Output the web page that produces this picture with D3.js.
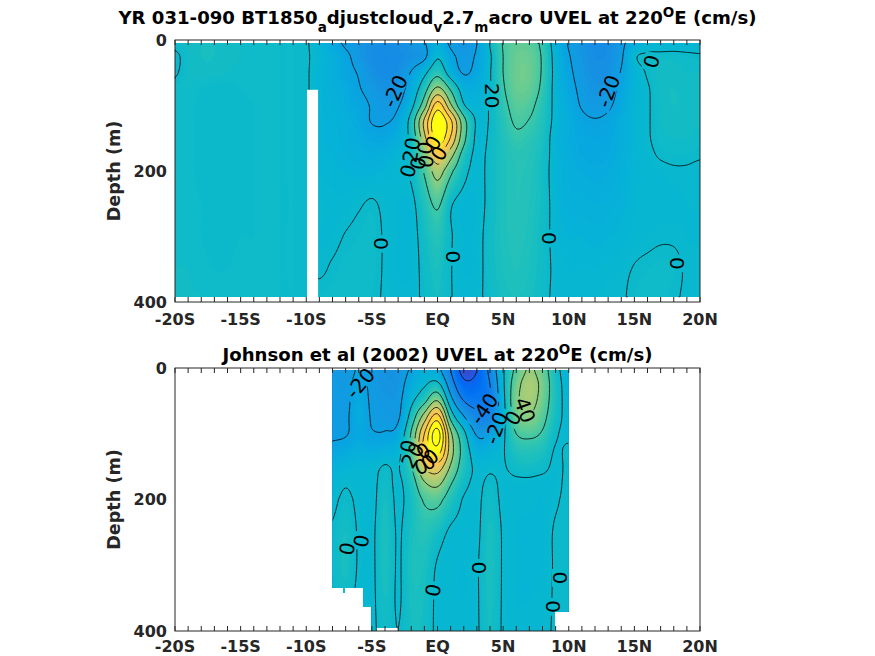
<!DOCTYPE html>
<html>
<head>
<meta charset="utf-8">
<script src="https://cdn.jsdelivr.net/npm/d3@7"></script>
<style>
body { margin: 0; background: #fff; }
text { font-family: "DejaVu Sans", sans-serif; white-space: pre; }
</style>
</head>
<body>
<svg id="fig" width="875" height="656"></svg>
<script>
// ---------------- data ----------------
var modelLat = d3.range(-20, 21);
var modelDepth = [5, 25, 50, 75, 100, 125, 150, 175, 200, 250, 300, 350, 392];
// rows = depth, columns = latitude -20..20 (cm/s)
var modelU = [
  [3,5,6,6,5,4,3,3,2,2, 1,-6,-14,-22,-26,-29,-30,-29,-26,-21, -10, -22,-27,-20,1,21,28,27,16,-8,-21, -27,-31,-30,-23,-12,-6,-6,-5,-5,-4],
  [-2,4,6,6,5,4,3,3,2,2, 1,-4,-10,-17,-25,-30,-32,-31,-28,-23, -2, -16,-24,-18,-2,20,30,30,18,-6,-19, -26,-30,-29,-22,-2,2,3,3,2,1],
  [-1,4,5,5,4,3,3,3,2,2, 1,-5,-10,-16,-21,-28,-31,-29,-19,-4, 14, -8,-21,-15,-1,20,31,31,18,-5,-17, -25,-29,-28,-19,-6,1,5,5,4,4],
  [3,4,2,1,1,2,3,3,2,2, 1,-5,-9,-13,-19,-24,-28,-26,-12,12, 45, 18,-8,-10,-1,18,30,29,16,-5,-15, -23,-27,-26,-16,-6,-1,5,6,5,5],
  [3,3,1,1,1,1,2,3,2,2, 1,-5,-8,-12,-16,-21,-25,-21,-5,32, 90, 44,2,-6,1,15,26,24,12,-4,-13, -21,-24,-22,-14,-5,-1,4,6,5,5],
  [3,3,1,1,1,1,2,3,2,2, 1,-5,-7,-10,-14,-20.5,-21,-15,8,64, 118, 85,28,-2,1,12,22,19,10,-4,-11, -17,-19,-17,-11,-5,-1,4,5,5,4],
  [3,3,1,1,1,1,2,3,2,2, 1,-5,-7,-9,-12,-15,-15,-10,6,54, 112, 78,26,-3,2,10,17,14,8,-6,-12, -15,-16,-15,-11,-5,-1,3,4,4,3],
  [3,3,1,1,1,1,2,3,2,2, 1,-5,-6,-8,-10,-11,-9,-5,4,37, 78, 48,12,-3,3,9,13,12,6,-5,-11, -14,-15,-14,-10,-5,-2,1,2,2,1],
  [3,3,1,1,1,1,2,3,2,2, 1,-4,-5,-6,-7,-7,-5,-3,2,22, 48, 24,4,-3,3,9,12,11,5,-5,-10, -12,-13,-12,-9,-5,-3,-2,-1,-1,-2],
  [3,3,2,1,1,1,2,3,2,2, 1.5,-1,-3,-3,-1,1,-2,-4,-3,10, 23, 2,-4,-4,3,9,12,10,5,-4,-9, -9,-10,-9,-7,-4,-3,-3,-3,-2,-2],
  [3,3,2,1,1,2,2,3,2,2, 1,-2,-2,0.5,2,3,-1,-4,-4,5, 12, 1,-4,-3,4,9,11,9,4,-3,-6, -6,-7,-6,-5,-3,-2,-1,-1,-2,-2],
  [4,4,3,2,2,3,3,3,2,2, 1,-1,1,3,3,3,-1,-4,-4,3, 8, 0.5,-4,-3,4,8,10,8,4,-2,-4, -4,-4,-3,-2,0.5,2,3,2,-1,-2],
  [4,4,4,3,3,3,3,3,2,2, 2,2,3,3,3,2,-1,-3,-3,2, 6, 0.5,-3,-2,3,7,8,7,3,-2,-3, -3,-3,-1,-1,2,3,3,1,-1,-2]
];
// missing model column
var modelGapLat = [-9.94, -9.1];
var modelGapDepth = [76, 400];

var obsLat = d3.range(-8, 11);
var obsDepth = [3, 25, 50, 75, 100, 125, 150, 175, 200, 250, 300, 350, 400];
// rows = depth, columns = latitude -8..10 (cm/s)
var obsU = [
  [-24,-25,-19,-24,-28,-27,-18,-10,-15,-40,-66,-60,-35,-2,25,42,30,6,-8],
  [-23,-24,-16,-23,-27,-26,-12,-2,5,-30,-55,-54,-40,-3,32,48,34,8,-6],
  [-22,-23,-14,-22,-25,-24,-4,15,40,-12,-40,-46,-42,-5,35,46,32,8,-5],
  [-21,-22,-13,-21,-23,-22,8,50,90,15,-18,-35,-35,-6,30,38,26,6,-4],
  [-22,-21,-15,-19,-19,-14,22,80,128,45,5,-22,-20,-3,20,24,18,2,-3],
  [-16,-14,-10,-12,-10,-5,25,85,112,50,12,-10,-8,-1,10,12,9,-1,2],
  [-8,-6,-4,-4,1,-1,18,62,72,38,10,-3,-2,-1,4,5,3,-2,2],
  [-4,-1,-3,-3,4,-2,10,38,45,22,4,-2,2,-2,-2,-2,-3,-2,2],
  [-2,2,-2,-3,6,-2,6,22,25,10,-1,-2,4,-2,-3,-3,-4,-1,2],
  [1,6,-1,-2,8,-1,7,12,6,-2,-3,-2,7,-1,-4,-5,-4,1,2],
  [2,7,-1,-2,8,-1,8,8,-1,-3,-4,-1,8,-1,-4,-5,-4,1,2],
  [1,4,-2,-2,6,-1,7,6,-2,-3,-4,-1,7,-1,-4,-4,-3,1,2],
  [0,2,-2,-2,4,0,6,5,-2,-3,-3,-1,6,-1,-3,-3,-2,1,2]
];
// deepest observation, per latitude segment
var obsFloorLat = [-8, -7.2, -7.05, -5.65, -5.0, -4.64, -3.0, 8.95, 9.97];
var obsFloorDepth = [334, 342, 334, 363, 400, 395, 400, 370];

var contourLevels = d3.range(-80, 141, 20);
var latTicks = d3.range(-20, 21, 5);
var latTickText = ["-20S", "-15S", "-10S", "-5S", "EQ", "5N", "10N", "15N", "20N"];
var depthTicks = [0, 200, 400];

var modelLabels = [
  {lat: -3.24, depth: 78, text: "-20", rot: -65},
  {lat: 4.2, depth: 85, text: "20", rot: 90},
  {lat: 13.0, depth: 78, text: "-20", rot: -70},
  {lat: 16.3, depth: 33, text: "0", rot: -75},
  {lat: -4.3, depth: 311, text: "0", rot: 90},
  {lat: 1.2, depth: 331, text: "0", rot: 90},
  {lat: 8.5, depth: 303, text: "0", rot: 90},
  {lat: 18.3, depth: 341, text: "0", rot: 90},
  {lat: -2.25, depth: 200, text: "0", rot: -75},
  {lat: -2.0, depth: 168, text: "20", rot: -80},
  {lat: -0.95, depth: 165, text: "0", rot: -80},
  {lat: -0.34, depth: 157, text: "0", rot: -60},
  {lat: 0.11, depth: 173, text: "0", rot: -60},
  {lat: -1.49, depth: 188, text: "0", rot: -80},
  {lat: -0.88, depth: 185, text: "0", rot: -80}
];
var obsLabels = [
  {lat: -5.9, depth: 23, text: "-20", rot: -50},
  {lat: 3.54, depth: 62, text: "-40", rot: -55},
  {lat: 4.46, depth: 91, text: "-20", rot: -70},
  {lat: 5.75, depth: 76, text: "0", rot: -60},
  {lat: 6.67, depth: 64, text: "40", rot: 70},
  {lat: -6.9, depth: 275, text: "0", rot: -80},
  {lat: -5.8, depth: 263, text: "0", rot: -80},
  {lat: 3.2, depth: 304, text: "0", rot: 90},
  {lat: -0.34, depth: 338, text: "0", rot: -80},
  {lat: 9.33, depth: 319, text: "0", rot: 90},
  {lat: 8.8, depth: 363, text: "0", rot: 90},
  {lat: -2.25, depth: 119, text: "0", rot: -80},
  {lat: -1.9, depth: 133, text: "20", rot: -60},
  {lat: -1.1, depth: 126, text: "0", rot: -30},
  {lat: -0.5, depth: 135, text: "0", rot: -40},
  {lat: -1.26, depth: 150, text: "0", rot: -20},
  {lat: -0.72, depth: 143, text: "0", rot: -30}
];

var modelTitle = [["YR 031-090 BT1850", "n"], ["a", "sub"], ["djustcloud", "n"], ["v", "sub"],
  ["2.7", "n"], ["m", "sub"], ["acro UVEL at 220", "n"], ["O", "sup"], ["E (cm/s)", "n"]];
var obsTitle = [["Johnson et al (2002) UVEL at 220", "n"], ["O", "sup"], ["E (cm/s)", "n"]];

var parula = [
[0.2081,0.1663,0.5292],[0.2116,0.1898,0.5777],[0.2123,0.2138,0.6270],[0.2081,0.2386,0.6771],
[0.1959,0.2645,0.7279],[0.1707,0.2919,0.7792],[0.1253,0.3242,0.8303],[0.0591,0.3598,0.8683],
[0.0117,0.3875,0.8820],[0.0060,0.4086,0.8828],[0.0165,0.4266,0.8786],[0.0329,0.4430,0.8720],
[0.0498,0.4586,0.8641],[0.0629,0.4737,0.8554],[0.0723,0.4887,0.8467],[0.0779,0.5040,0.8384],
[0.0793,0.5200,0.8312],[0.0749,0.5375,0.8263],[0.0641,0.5570,0.8240],[0.0488,0.5772,0.8228],
[0.0343,0.5966,0.8199],[0.0265,0.6137,0.8135],[0.0239,0.6287,0.8038],[0.0231,0.6418,0.7913],
[0.0228,0.6535,0.7768],[0.0267,0.6642,0.7607],[0.0384,0.6743,0.7436],[0.0590,0.6838,0.7254],
[0.0843,0.6928,0.7062],[0.1133,0.7015,0.6859],[0.1453,0.7098,0.6646],[0.1801,0.7177,0.6424],
[0.2178,0.7250,0.6193],[0.2586,0.7317,0.5954],[0.3022,0.7376,0.5712],[0.3482,0.7424,0.5473],
[0.3953,0.7459,0.5244],[0.4420,0.7481,0.5033],[0.4871,0.7491,0.4840],[0.5300,0.7491,0.4661],
[0.5709,0.7485,0.4494],[0.6099,0.7473,0.4337],[0.6473,0.7456,0.4188],[0.6834,0.7435,0.4044],
[0.7184,0.7411,0.3905],[0.7525,0.7384,0.3768],[0.7858,0.7356,0.3633],[0.8185,0.7327,0.3498],
[0.8507,0.7299,0.3360],[0.8824,0.7274,0.3217],[0.9139,0.7258,0.3063],[0.9450,0.7261,0.2886],
[0.9739,0.7314,0.2666],[0.9938,0.7455,0.2403],[0.9990,0.7653,0.2164],[0.9955,0.7861,0.1967],
[0.9880,0.8066,0.1794],[0.9789,0.8271,0.1633],[0.9697,0.8481,0.1475],[0.9626,0.8705,0.1309],
[0.9589,0.8949,0.1132],[0.9598,0.9218,0.0948],[0.9661,0.9514,0.0755],[0.9763,0.9831,0.0538]
];

// ---------------- drawing ----------------
var svg = d3.select("#fig");
var X0 = 175, X1 = 700;
var cmin = -80, cmax = 115;
var color = d3.scaleLinear()
  .domain(parula.map(function(c, i) { return cmin + i * (cmax - cmin) / 63; }))
  .range(parula.map(function(c) { return d3.rgb(c[0] * 255, c[1] * 255, c[2] * 255).brighter(0.2) + ""; }))
  .clamp(true);
var defs = svg.append("defs");

// Catmull-Rom
function cr(p0, p1, p2, p3, t) {
  return p1 + 0.5 * t * (p2 - p0 + t * (2 * p0 - 5 * p1 + 4 * p2 - p3 + t * (3 * (p1 - p2) + p3 - p0)));
}
function sample(grid, fi, fj) {
  var nc = grid[0].length, nr = grid.length;
  var i = Math.max(0, Math.min(nc - 2, Math.floor(fi))), j = Math.max(0, Math.min(nr - 2, Math.floor(fj)));
  var tx = fi - i, ty = fj - j;
  function cl(a, n) { return Math.max(0, Math.min(n - 1, a)); }
  var r = [];
  for (var k = -1; k <= 2; k++) {
    var row = grid[cl(j + k, nr)];
    r.push(cr(row[cl(i - 1, nc)], row[i], row[i + 1], row[cl(i + 2, nc)], tx));
  }
  return cr(r[0], r[1], r[2], r[3], ty);
}

function drawPanel(p, id) {
  var x = d3.scaleLinear().domain([-20, 20]).range([X0, X1]);
  var y = d3.scaleLinear().domain([0, 400]).range([p.top, p.bottom]);
  var g = svg.append("g");

  var latMin = p.lats[0], latMax = p.lats[p.lats.length - 1];
  var dMin = p.depths[0], dMax = p.depths[p.depths.length - 1];
  var dLat = 0.125;
  var nx = Math.round((latMax - latMin) / dLat) + 1;
  var ny = Math.round((dMax - dMin) / 2) + 1;
  var dD = (dMax - dMin) / (ny - 1);
  var latIdx = d3.scaleLinear().domain(p.lats).range(d3.range(p.lats.length));
  var depIdx = d3.scaleLinear().domain(p.depths).range(d3.range(p.depths.length));
  var fine = new Float64Array(nx * ny);
  for (var j = 0; j < ny; j++) {
    var fj = depIdx(dMin + j * dD);
    for (var i = 0; i < nx; i++) fine[j * nx + i] = sample(p.values, latIdx(latMin + i * dLat), fj);
  }

  function proj(a, b) {
    var ii = Math.max(0, Math.min(nx - 1, a - 0.5)), jj = Math.max(0, Math.min(ny - 1, b - 0.5));
    return [x(latMin + ii * dLat), y(dMin + jj * dD)];
  }
  var path = d3.geoPath(d3.geoTransform({point: function(a, b) {
    var q = proj(a, b); this.stream.point(q[0], q[1]);
  }}));

  var layer = g.append("g");
  if (p.clip) {
    defs.append("clipPath").attr("id", "clip" + id)
      .append("polygon").attr("points", p.clip.map(function(c) { return x(c[0]) + "," + y(c[1]); }).join(" "));
    layer.attr("clip-path", "url(#clip" + id + ")");
  }

  // shaded field
  var bands = d3.contours().size([nx, ny]).thresholds(d3.range(-100, 142, 2))(fine);
  layer.append("g").selectAll("path").data(bands).join("path")
    .attr("d", path).attr("fill", function(d) { return color(d.value + 1); })
    .attr("fill-rule", "evenodd").attr("stroke", "none");

  // label gaps
  var fs = 20;
  var mask = defs.append("mask").attr("id", "mask" + id)
    .attr("maskUnits", "userSpaceOnUse").attr("x", 0).attr("y", 0).attr("width", 875).attr("height", 656);
  mask.append("rect").attr("width", 875).attr("height", 656).attr("fill", "#fff");
  p.labels.forEach(function(l) {
    var w = fs * 0.6 * l.text.length + 6, h = fs * 0.8;
    mask.append("rect").attr("x", -w / 2).attr("y", -h / 2).attr("width", w).attr("height", h)
      .attr("fill", "#000")
      .attr("transform", "translate(" + x(l.lat) + "," + y(l.depth) + ") rotate(" + l.rot + ")");
  });

  // contour lines
  var lines = d3.contours().size([nx, ny]).thresholds(p.levels)(fine);
  var pieces = [];
  lines.forEach(function(c) {
    c.coordinates.forEach(function(poly) {
      poly.forEach(function(ring) {
        var cur = [];
        for (var k = 0; k < ring.length - 1; k++) {
          var a = ring[k], b = ring[k + 1];
          var edge = (a[0] === 0 && b[0] === 0) || (a[0] === nx && b[0] === nx) ||
                     (a[1] === 0 && b[1] === 0) || (a[1] === ny && b[1] === ny);
          if (edge) { if (cur.length > 1) pieces.push(cur); cur = []; }
          else { if (!cur.length) cur.push(a); cur.push(b); }
        }
        if (cur.length > 1) pieces.push(cur);
      });
    });
  });
  var line = d3.line();
  layer.append("g").attr("mask", "url(#mask" + id + ")")
    .selectAll("path").data(pieces).join("path")
    .attr("d", function(pc) { return line(pc.map(function(pt) { return proj(pt[0], pt[1]); })); })
    .attr("fill", "none").attr("stroke", "#000").attr("stroke-width", 0.8);

  if (p.gap) {
    g.append("rect").attr("x", x(p.gap.lat[0])).attr("y", y(p.gap.depth[0]))
      .attr("width", x(p.gap.lat[1]) - x(p.gap.lat[0])).attr("height", y(p.gap.depth[1]) - y(p.gap.depth[0]))
      .attr("fill", "#fff");
  }

  // labels
  g.append("g").selectAll("text").data(p.labels).join("text")
    .attr("transform", function(l) { return "translate(" + x(l.lat) + "," + y(l.depth) + ") rotate(" + l.rot + ")"; })
    .attr("text-anchor", "middle").attr("dy", "0.36em")
    .attr("font-size", fs).attr("fill", "#000").text(function(l) { return l.text; });

  // axes box and ticks
  var ax = g.append("g").attr("stroke", "#262626").attr("stroke-width", 1);
  ax.selectAll("line.t").data(d3.range(-20, 21)).join("line")
    .attr("x1", function(d) { return x(d); }).attr("x2", function(d) { return x(d); })
    .attr("y1", p.top).attr("y2", p.top + 5);
  ax.selectAll("line.b").data(d3.range(-20, 21)).join("line")
    .attr("x1", function(d) { return x(d); }).attr("x2", function(d) { return x(d); })
    .attr("y1", p.bottom).attr("y2", p.bottom - 5);
  ax.append("rect").attr("x", X0).attr("y", p.top).attr("width", X1 - X0).attr("height", p.bottom - p.top)
    .attr("fill", "none");

  g.append("g").selectAll("text").data(latTicks).join("text")
    .attr("x", function(d) { return x(d); }).attr("y", p.bottom + p.tickGap)
    .attr("text-anchor", "middle").attr("font-size", 16).attr("font-weight", "bold").attr("fill", "#262626")
    .text(function(d, i) { return latTickText[i]; });
  g.append("g").selectAll("text").data(depthTicks).join("text")
    .attr("x", X0 - 8).attr("y", function(d) { return y(d); }).attr("dy", "0.36em")
    .attr("text-anchor", "end").attr("font-size", 16).attr("font-weight", "bold").attr("fill", "#262626")
    .text(function(d) { return d; });
  g.append("text").attr("transform", "translate(120," + (p.top + p.bottom) / 2 + ") rotate(-90)")
    .attr("text-anchor", "middle").attr("font-size", 17.6).attr("font-weight", "bold").attr("fill", "#262626")
    .text("Depth (m)");

  var t = g.append("text").attr("x", (X0 + X1) / 2).attr("y", p.titleY)
    .attr("text-anchor", "middle").attr("font-weight", "bold").attr("fill", "#000");
  var off = 0;
  p.title.forEach(function(part) {
    var target = part[1] === "sub" ? 8 : part[1] === "sup" ? -7 : 0;
    t.append("tspan").attr("dy", target - off).attr("font-size", part[1] === "n" ? 18.1 : 13.5).text(part[0]);
    off = target;
  });
}

var obsClip = [[obsFloorLat[0], obsDepth[0]], [obsFloorLat[obsFloorLat.length - 1], obsDepth[0]]];
for (var k = obsFloorDepth.length - 1; k >= 0; k--) {
  obsClip.push([obsFloorLat[k + 1], obsFloorDepth[k]]);
  obsClip.push([obsFloorLat[k], obsFloorDepth[k]]);
}

drawPanel({top: 40, bottom: 302, titleY: 24, tickGap: 23, lats: modelLat, depths: modelDepth, values: modelU,
  levels: contourLevels, labels: modelLabels, title: modelTitle,
  gap: {lat: modelGapLat, depth: modelGapDepth}}, 0);
drawPanel({top: 368, bottom: 631, titleY: 361, tickGap: 21, lats: obsLat, depths: obsDepth, values: obsU,
  levels: contourLevels, labels: obsLabels, title: obsTitle, clip: obsClip}, 1);
</script>
</body>
</html>
